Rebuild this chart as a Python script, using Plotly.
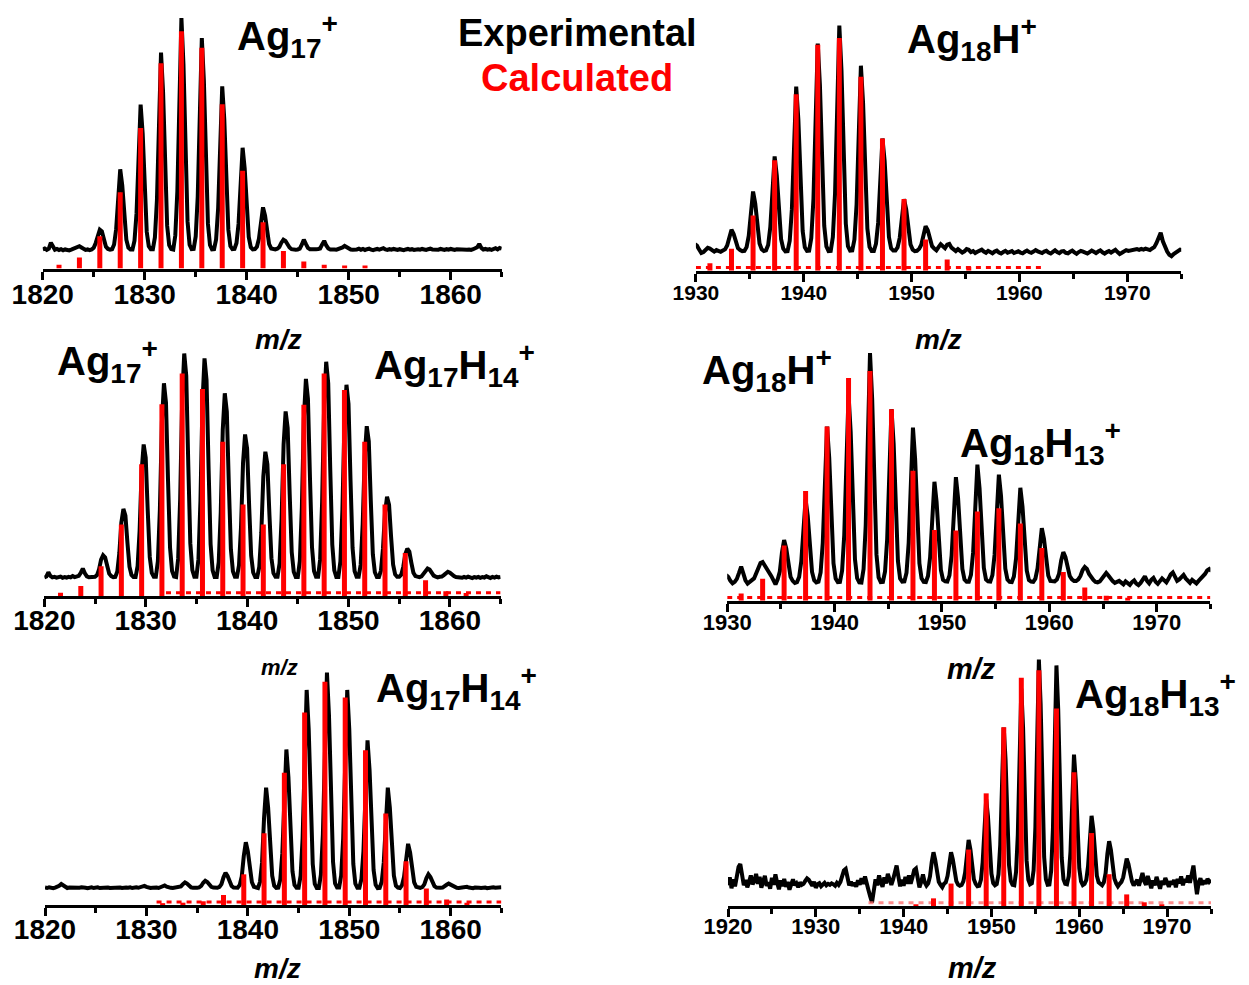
import numpy as np
import plotly.graph_objects as go

W, H = 1249, 985

# ---------------------------------------------------------------------------
# Experimental spectra: relative intensity (% of base peak), sampled every
# 0.2 m/z starting at the given m/z value.
# ---------------------------------------------------------------------------
STEP = 0.2

# Ag17+ (top left)
ag17_start = 1820.0
ag17_exp = [
    7.6, 8.0, 7.4, 7.9,
    10.3, 8.6, 7.5, 7.8, 7.4, 7.7, 7.3, 7.6, 7.4, 7.2,
    7.5, 7.8, 8.3, 8.7, 8.9, 8.4, 7.8, 7.4, 7.6, 7.3,
    7.6, 8.3, 10.2, 13.6, 15.5, 14.8, 11.6, 8.7, 7.8, 7.5,
    7.7, 9.6, 15.7, 30.0, 39.6, 33.2, 20.5, 11.5, 8.3, 7.6,
    7.6, 11.1, 22.1, 48.1, 65.4, 53.9, 30.8, 14.6, 8.9, 7.7,
    7.7, 12.4, 27.3, 62.6, 86.2, 70.5, 39.1, 17.1, 9.3, 7.8,
    7.6, 13.2, 30.8, 72.3, 100.0, 81.5, 44.6, 18.8, 9.5, 7.7,
    7.8, 12.8, 28.8, 66.7, 92.0, 75.1, 41.4, 17.8, 9.4, 7.6,
    7.7, 11.6, 24.0, 53.2, 72.7, 59.7, 33.7, 15.5, 9.0, 7.7,
    7.8, 10.2, 17.8, 36.1, 48.2, 40.1, 23.9, 12.6, 8.5, 7.6,
    7.7, 8.7, 11.9, 19.4, 24.4, 21.1, 14.4, 9.7, 8.0, 7.6,
    7.6, 7.9, 8.6, 10.3, 11.5, 11.0, 9.6, 8.4, 7.7, 7.4,
    7.5, 7.6, 7.9, 9.5, 11.5, 9.8, 8.2, 7.7, 7.6, 7.8,
    7.7, 7.8, 8.0, 9.6, 11.0, 9.2, 8.0, 7.6, 7.4, 7.6,
    7.5, 7.7, 7.9, 8.4, 9.0, 8.5, 7.9, 7.6, 7.5, 7.4,
    7.6, 7.9, 7.5, 7.8, 7.4, 7.7, 7.9, 7.5, 7.3, 7.6,
    7.8, 7.5, 7.7, 8.1, 7.6, 7.4, 7.7, 7.5, 7.8, 7.6,
    7.4, 7.7, 7.5, 7.3, 7.6, 7.8, 7.5, 7.7, 7.4, 7.6,
    7.7, 7.5, 7.8, 7.6, 7.4, 7.7, 7.9, 7.6, 7.5, 7.7,
    7.5, 7.8, 7.6, 7.4, 7.7, 7.5, 7.8, 7.6, 7.4, 7.7,
    7.6, 7.5, 7.8, 7.7, 7.5, 7.6, 7.4, 7.7, 7.9, 8.5,
    9.8, 8.2, 7.6, 7.8, 7.5, 7.7, 7.4, 7.8, 8.1, 7.6,
    8.2, 7.9,
]

# Ag18H+ (top right)
ag18h_start = 1929.9
ag18h_exp = [
    10.8, 10.2, 8.6,
    7.2, 7.6, 8.4, 9.3, 9.0, 8.2, 7.8, 8.4, 8.1, 7.7,
    8.2, 8.7, 10.3, 14.2, 16.7, 15.0, 11.6, 9.2, 8.4, 8.0,
    8.1, 9.6, 14.2, 25.1, 32.3, 27.5, 17.8, 11.1, 8.7, 8.0,
    8.3, 10.5, 17.8, 35.1, 46.6, 38.9, 23.6, 12.8, 9.0, 7.9,
    8.0, 12.2, 25.0, 55.0, 75.1, 61.7, 35.0, 16.2, 9.5, 8.1,
    8.2, 13.3, 29.3, 67.3, 92.6, 75.7, 42.0, 18.3, 9.9, 8.0,
    8.1, 13.7, 31.2, 72.5, 100.0, 81.6, 44.9, 19.2, 10.0, 8.2,
    8.3, 12.7, 27.1, 61.0, 83.6, 68.5, 38.4, 17.2, 9.7, 8.0,
    8.0, 11.0, 19.6, 40.2, 53.9, 44.8, 26.5, 13.7, 9.1, 8.2,
    8.2, 9.5, 13.4, 22.9, 29.2, 25.0, 16.6, 10.7, 8.6, 8.0,
    8.1, 8.9, 10.6, 15.1, 18.1, 16.5, 13.0, 10.0, 9.0, 8.3,
    9.6, 10.8, 10.0, 9.2, 10.6, 10.9, 9.4, 8.6, 8.0, 8.8,
    8.2, 7.4, 7.9, 8.8, 8.5, 7.6, 8.0, 7.2, 7.7, 8.3,
    8.6, 7.8, 7.3, 8.1, 7.6, 7.1, 7.8, 8.2, 7.4, 7.0,
    7.6, 8.1, 7.3, 7.7, 8.0, 7.2, 7.5, 7.9, 7.4, 7.1,
    7.7, 8.2, 7.6, 7.3, 7.8, 8.4, 7.9, 7.5, 7.2, 7.8,
    8.1, 7.4, 7.0, 7.7, 8.3, 7.6, 7.2, 7.9, 8.0, 7.3,
    7.1, 7.7, 8.2, 7.5, 6.9, 7.6, 8.1, 7.8, 7.3, 7.0,
    7.6, 8.2, 7.7, 7.2, 7.8, 8.3, 7.5, 7.0, 7.6, 8.0,
    7.4, 7.9, 8.5, 7.6, 6.8, 7.3, 8.0, 8.4, 8.1, 8.3,
    8.6, 8.4, 8.8, 8.5, 8.9, 8.6, 9.0, 8.7, 8.4, 9.1,
    9.6, 11.2, 14.0, 15.5, 12.0, 9.3, 7.8, 6.5, 5.9, 6.8,
    7.4, 8.3, 8.6, 8.4,
]

# Ag17+ / Ag17H14+ mixture (middle left)
ag17mix_start = 1820.0
ag17mix_exp = [
    7.6, 8.0, 9.8, 8.3, 7.7,
    7.9, 7.6, 7.8, 8.0, 7.5, 7.8, 7.6, 7.9, 7.7, 8.2,
    7.8, 7.9, 8.3, 9.6, 11.3, 9.4, 8.1, 7.7, 7.8, 7.6,
    7.9, 8.6, 11.0, 15.0, 16.8, 15.9, 12.4, 9.2, 8.2, 7.8,
    7.9, 10.1, 17.7, 30.3, 35.9, 33.1, 21.9, 12.1, 8.7, 7.8,
    7.8, 12.3, 27.0, 51.6, 62.5, 57.0, 35.2, 16.1, 9.5, 7.9,
    7.9, 14.3, 35.8, 71.7, 87.7, 79.7, 47.8, 19.9, 10.3, 8.0,
    7.8, 15.3, 40.1, 81.6, 100.0, 90.8, 54.0, 21.7, 10.7, 7.9,
    7.9, 15.1, 39.4, 80.0, 98.0, 89.0, 53.0, 21.4, 10.6, 7.8,
    7.8, 13.9, 34.4, 68.5, 83.6, 76.0, 45.8, 19.3, 10.2, 7.9,
    7.9, 12.6, 28.4, 54.9, 66.6, 60.7, 37.3, 16.7, 9.7, 7.8,
    7.8, 12.0, 26.0, 49.2, 59.5, 54.3, 33.7, 15.6, 9.4, 7.9,
    7.9, 13.4, 31.8, 62.5, 76.1, 69.3, 42.0, 18.1, 10.0, 7.8,
    7.8, 14.4, 36.5, 73.2, 89.5, 81.3, 48.7, 20.1, 10.3, 7.9,
    7.9, 15.0, 38.9, 78.9, 96.6, 87.7, 52.2, 21.2, 10.6, 7.8,
    7.8, 14.2, 35.6, 71.3, 87.1, 79.2, 47.5, 19.8, 10.3, 7.9,
    7.9, 12.9, 29.6, 57.6, 70.0, 63.8, 39.0, 17.2, 9.8, 7.8,
    7.8, 10.5, 19.5, 34.3, 40.9, 37.6, 24.4, 12.9, 8.9, 7.9,
    7.9, 8.8, 12.0, 17.2, 19.5, 18.3, 13.7, 9.6, 8.2, 7.8,
    7.8, 8.1, 9.1, 10.6, 11.3, 10.9, 9.6, 8.4, 8.0, 7.7,
    7.9, 8.0, 8.6, 9.5, 10.0, 9.6, 8.8, 8.2, 7.8, 7.6,
    7.8, 7.5, 7.9, 7.6, 8.0, 7.7, 7.4, 7.8, 7.6, 7.9,
    7.5, 7.8, 7.6, 8.1, 7.7, 7.4, 7.9, 7.6, 8.0, 7.7,
    7.9,
]

# Ag18H+ / Ag18H13+ mixture (middle right)
ag18mix_start = 1929.9
ag18mix_exp = [
    10.4, 9.6, 8.0,
    7.0, 7.6, 8.8, 11.2, 13.8, 11.0, 8.2, 6.9, 7.4, 8.3,
    9.0, 10.8, 13.2, 15.2, 15.6, 14.0, 12.2, 11.4, 10.0, 8.6,
    6.6, 8.6, 11.8, 19.4, 24.5, 21.1, 14.4, 9.6, 8.0, 7.2,
    7.5, 9.6, 15.9, 30.9, 40.9, 34.2, 20.9, 11.6, 8.3, 7.4,
    7.7, 11.4, 23.3, 51.5, 70.3, 57.8, 32.7, 15.1, 8.9, 7.5,
    7.6, 12.1, 26.5, 60.5, 83.2, 68.1, 37.8, 16.7, 9.1, 7.4,
    7.3, 12.8, 30.4, 72.3, 100.0, 81.5, 44.6, 18.7, 9.4, 7.5,
    7.6, 11.8, 25.0, 56.4, 77.3, 63.4, 35.5, 16.0, 9.0, 7.7,
    7.8, 11.3, 23.2, 51.2, 69.9, 57.4, 32.5, 15.1, 9.0, 7.6,
    7.5, 10.0, 17.7, 35.9, 48.0, 39.9, 23.8, 12.4, 8.4, 7.8,
    7.7, 10.2, 18.3, 37.3, 49.9, 41.5, 24.6, 12.8, 8.5, 7.6,
    7.6, 10.4, 19.4, 40.7, 54.9, 45.4, 26.5, 13.3, 8.6, 7.8,
    7.7, 10.3, 18.5, 38.0, 50.9, 42.3, 25.0, 12.9, 8.5, 7.6,
    7.5, 9.8, 17.0, 34.1, 45.6, 38.0, 22.7, 12.1, 8.3, 7.7,
    7.6, 8.9, 13.0, 22.8, 29.3, 25.0, 16.3, 10.2, 8.0, 7.9,
    7.8, 8.5, 10.8, 16.2, 19.6, 17.6, 13.2, 10.0, 8.6, 8.0,
    8.0, 8.6, 10.0, 12.4, 13.6, 12.8, 10.8, 9.2, 8.4, 7.6,
    7.4, 7.8, 8.8, 10.4, 11.2, 10.2, 8.8, 7.9, 7.2, 7.6,
    8.0, 7.3, 6.6, 7.8, 7.1, 6.4, 7.5, 8.2, 6.9, 6.3,
    7.2, 8.6, 9.8, 8.0, 7.0, 8.4, 9.2, 7.6, 6.8, 7.9,
    9.0, 8.2, 7.4, 8.8, 10.6, 11.4, 9.4, 8.0, 8.6, 9.8,
    10.4, 9.0, 7.8, 7.2, 8.4, 7.6, 7.0, 8.0, 8.8, 9.6,
    10.8, 12.2, 12.8, 12.0,
]

# Ag17H14+ (bottom left)
ag17h14_start = 1820.0
ag17h14_exp = [
    7.5, 7.3, 7.6, 7.4, 7.2,
    7.5, 7.7, 8.3, 9.0, 8.4, 7.6, 7.3, 7.5, 7.4, 7.6,
    7.3, 7.5, 7.4, 7.6, 7.7, 7.4, 7.2, 7.5, 7.6, 7.3,
    7.5, 7.6, 7.3, 7.4, 7.7, 7.8, 7.5, 7.3, 7.4, 7.6,
    7.4, 7.7, 7.5, 7.3, 7.6, 7.5, 7.4, 7.6, 7.3, 7.5,
    7.6, 7.4, 7.7, 8.0, 8.2, 7.8, 7.5, 7.3, 7.4, 7.6,
    7.5, 7.3, 7.6, 8.0, 8.4, 7.9, 7.5, 7.4, 7.3, 7.5,
    7.3, 7.5, 8.0, 9.0, 9.7, 9.2, 8.3, 7.6, 7.4, 7.2,
    7.4, 7.6, 8.2, 9.6, 10.4, 9.9, 8.6, 7.8, 7.5, 7.3,
    7.4, 7.8, 9.0, 11.9, 13.8, 12.5, 10.0, 8.2, 7.5, 7.3,
    7.4, 8.6, 12.3, 21.1, 27.0, 23.1, 15.2, 9.8, 7.8, 7.4,
    7.3, 10.0, 18.2, 37.6, 50.5, 41.9, 24.6, 12.6, 8.3, 7.4,
    7.5, 11.0, 22.3, 49.1, 66.9, 55.0, 31.2, 14.5, 8.6, 7.4,
    7.4, 12.5, 28.7, 67.0, 92.5, 75.5, 41.4, 17.6, 9.1, 7.3,
    7.3, 13.0, 30.5, 72.2, 100.0, 81.5, 44.5, 18.5, 9.3, 7.5,
    7.5, 12.6, 28.6, 66.9, 92.5, 75.5, 41.3, 17.6, 9.2, 7.4,
    7.4, 11.2, 23.3, 51.8, 70.8, 58.1, 32.8, 15.0, 8.7, 7.3,
    7.4, 10.0, 18.2, 37.6, 50.5, 41.9, 24.6, 12.6, 8.3, 7.5,
    7.3, 8.5, 12.1, 20.6, 26.3, 22.5, 15.0, 9.7, 7.8, 7.4,
    7.4, 7.7, 8.9, 11.5, 13.2, 12.0, 9.7, 8.1, 7.5, 7.3,
    7.4, 7.5, 7.9, 8.7, 9.2, 8.8, 8.1, 7.6, 7.4, 7.3,
    7.5, 7.3, 7.6, 7.8, 7.5, 7.3, 7.2, 7.5, 7.6, 7.4,
    7.3, 7.6, 7.5, 7.2, 7.4, 7.7, 7.6, 7.4, 7.5, 7.7,
    7.6,
]

# Ag18H13+ (bottom right)
ag18h13_start = 1920.0
ag18h13_exp = [
    8.4, 11.6, 7.2,
    10.8, 8.0, 12.6, 15.8, 17.0, 11.2, 8.4, 10.6, 7.6, 9.8,
    12.4, 8.8, 10.2, 13.0, 9.0, 11.8, 7.4, 10.0, 12.2, 8.2,
    9.6, 7.0, 11.4, 8.6, 12.8, 9.4, 6.8, 10.4, 8.0, 11.0,
    7.8, 9.8, 6.6, 8.8, 10.8, 8.4, 9.2, 7.6, 9.6, 8.6,
    9.0, 10.2, 11.2, 10.6, 9.4, 8.2, 9.8, 7.4, 8.8, 9.2,
    8.0, 8.8, 9.4, 8.4, 9.0, 8.6, 9.2, 8.8, 8.2, 9.4,
    8.6, 9.8, 12.0, 14.4, 15.0, 11.2, 8.4, 9.8, 8.2, 9.4,
    7.8, 10.4, 8.6, 11.2, 9.0, 12.0, 8.2, 6.4, 3.8, 1.4,
    6.2, 10.8, 8.4, 12.4, 9.6, 7.8, 11.6, 9.2, 13.0, 10.4,
    8.6, 10.8, 13.2, 16.4, 12.0, 8.0, 10.6, 8.2, 11.8, 9.0,
    12.4, 9.0, 11.6, 14.6, 15.2, 10.6, 7.6, 9.8, 12.8, 9.6,
    8.3, 9.2, 12.0, 17.8, 21.8, 18.6, 12.5, 9.8, 8.6, 7.6,
    9.0, 9.6, 12.2, 18.0, 21.8, 18.9, 13.0, 10.1, 8.7, 8.2,
    8.5, 10.0, 13.5, 21.5, 26.8, 23.0, 15.5, 10.8, 9.0, 8.0,
    8.2, 10.6, 17.8, 33.2, 43.3, 36.4, 22.6, 13.1, 9.3, 8.4,
    8.9, 12.8, 24.8, 53.3, 72.4, 59.7, 34.4, 16.6, 10.2, 8.6,
    8.4, 13.8, 28.8, 64.4, 88.2, 72.4, 40.7, 18.5, 10.6, 8.8,
    9.2, 14.5, 31.7, 72.7, 100.0, 81.8, 45.4, 19.9, 10.8, 8.6,
    8.7, 14.3, 31.2, 71.0, 97.6, 79.9, 44.4, 19.6, 10.8, 9.0,
    8.8, 12.1, 22.1, 45.7, 61.4, 50.9, 30.0, 15.3, 10.0, 8.5,
    9.0, 10.6, 16.1, 28.3, 36.6, 31.1, 20.0, 12.3, 9.6, 8.7,
    8.4, 9.6, 13.3, 21.1, 26.3, 22.8, 15.8, 11.1, 9.2, 8.0,
    9.0, 9.8, 11.6, 16.2, 19.2, 17.0, 12.8, 10.0, 8.3, 9.4,
    10.6, 8.2, 11.2, 13.4, 10.0, 8.6, 12.2, 9.4, 7.2, 10.4,
    8.4, 11.8, 9.2, 7.0, 10.2, 8.6, 11.4, 9.0, 7.8, 10.0,
    8.8, 10.6, 7.6, 11.0, 9.2, 12.0, 8.4, 10.8, 9.6, 12.4,
    9.4, 12.8, 16.4, 10.2, 4.8, 9.6, 11.2, 8.6, 10.4, 9.0,
    11.0, 9.8, 10.6,
]

# ---------------------------------------------------------------------------
# Calculated isotope patterns (stick spectra), same intensity scale
# ---------------------------------------------------------------------------
ag17_calc_mz = [1821.6, 1823.6, 1825.6, 1827.6, 1829.6, 1831.6, 1833.6, 1835.6,
                1837.6, 1839.6, 1841.6, 1843.6, 1845.6, 1847.6, 1849.6, 1851.6]
ag17_calc_int = [1.5, 4.4, 12.9, 30.4, 56.1, 81.9, 94.7, 88.1,
                 65.6, 39.0, 18.5, 7.0, 2.8, 1.5, 1.2, 1.2]

ag18h_calc_mz = [1931.3, 1933.3, 1935.3, 1937.3, 1939.3, 1941.3, 1943.3,
                 1945.3, 1947.3, 1949.3, 1951.3, 1953.3, 1955.3]
ag18h_calc_int = [3.0, 9.0, 22.5, 45.0, 72.0, 92.2, 94.9,
                  79.1, 53.9, 29.2, 12.7, 4.6, 1.6]

ag17mix_calc_mz = [1821.6, 1823.6, 1825.6, 1827.6, 1829.6, 1831.6, 1833.6,
                   1835.6, 1837.6, 1839.6, 1841.6, 1843.6, 1845.6, 1847.6,
                   1849.6, 1851.6, 1853.6, 1855.6, 1857.6, 1859.6, 1861.6]
ag17mix_calc_int = [1.3, 4.1, 12.3, 29.5, 54.3, 79.1, 91.8,
                    85.4, 63.6, 37.7, 29.5, 54.3, 78.9, 91.8,
                    85.0, 63.6, 37.7, 17.7, 6.5, 2.0, 1.2]

ag18mix_calc_mz = [1931.3, 1933.3, 1935.3, 1937.3, 1939.3, 1941.3, 1943.3,
                   1945.3, 1947.3, 1949.3, 1951.3, 1953.3, 1955.3, 1957.3,
                   1959.3, 1961.3, 1963.3, 1965.3, 1967.3]
ag18mix_calc_int = [2.9, 8.9, 22.3, 44.3, 70.3, 89.9, 92.7,
                    77.3, 52.5, 28.5, 28.3, 36.0, 37.3, 31.2,
                    21.3, 11.6, 5.3, 2.0, 1.2]

ag17h14_calc_mz = [1831.6, 1833.6, 1835.6, 1837.6, 1839.6, 1841.6, 1843.6,
                   1845.6, 1847.6, 1849.6, 1851.6, 1853.6, 1855.6, 1857.6,
                   1859.6, 1861.6]
ag17h14_calc_int = [0.8, 1.0, 1.6, 4.3, 13.2, 30.9, 56.9,
                    82.8, 96.0, 89.2, 66.6, 39.4, 18.8, 7.1,
                    2.4, 1.0]

ag18h13_calc_mz = [1941.4, 1943.4, 1945.4, 1947.4, 1949.4, 1951.4, 1953.4,
                   1955.4, 1957.4, 1959.4, 1961.4, 1963.4, 1965.4, 1967.4,
                   1969.4]
ag18h13_calc_int = [0.7, 3.1, 9.1, 22.9, 45.7, 72.5, 92.6,
                    95.6, 80.1, 54.3, 29.6, 12.9, 4.7, 1.5, 0.7]

# m/z span covered by the computed profile (drawn as a dotted zero line)
calc_span = {
    "ag17": None,
    "ag18h": (1930.0, 1962.0),
    "ag17mix": (1832.0, 1865.0),
    "ag18mix": (1930.0, 1975.0),
    "ag17h14": (1831.0, 1865.0),
    "ag18h13": (1936.0, 1975.0),
}

# axis windows
x_ranges = {
    "ag17": (1820, 1865), "ag18h": (1930, 1975),
    "ag17mix": (1820, 1865), "ag18mix": (1930, 1975),
    "ag17h14": (1820, 1865), "ag18h13": (1920, 1975),
}

# ---------------------------------------------------------------------------
# Panel geometry (pixels in the 1249 x 985 canvas):
# left/right edge of the axis, y of the axis line, y of the base-peak top,
# tick-label size and the shift of the tick labels toward the axis
# ---------------------------------------------------------------------------
panels = [
    dict(key="ag17", start=ag17_start, exp=ag17_exp,
         mz=ag17_calc_mz, inten=ag17_calc_int,
         px=(42.7, 501.7), axis=268.5, top=18, tick=28, stand=-9,
         dash="rgba(255,0,0,1)"),
    dict(key="ag18h", start=ag18h_start, exp=ag18h_exp,
         mz=ag18h_calc_mz, inten=ag18h_calc_int,
         px=(695.9, 1181.2), axis=270.7, top=25.5, tick=21, stand=-7,
         dash="rgba(255,0,0,1)"),
    dict(key="ag17mix", start=ag17mix_start, exp=ag17mix_exp,
         mz=ag17mix_calc_mz, inten=ag17mix_calc_int,
         px=(44.3, 500.6), axis=596.0, top=353.5, tick=28, stand=-11,
         dash="rgba(255,0,0,1)"),
    dict(key="ag18mix", start=ag18mix_start, exp=ag18mix_exp,
         mz=ag18mix_calc_mz, inten=ag18mix_calc_int,
         px=(727.2, 1210.4), axis=600.7, top=353, tick=22, stand=-8,
         dash="rgba(255,0,0,1)"),
    dict(key="ag17h14", start=ag17h14_start, exp=ag17h14_exp,
         mz=ag17h14_calc_mz, inten=ag17h14_calc_int,
         px=(45.0, 501.4), axis=905.0, top=672.5, tick=28, stand=-11,
         dash="rgba(255,0,0,1)"),
    dict(key="ag18h13", start=ag18h13_start, exp=ag18h13_exp,
         mz=ag18h13_calc_mz, inten=ag18h13_calc_int,
         px=(728.0, 1211.0), axis=906.0, top=659.5, tick=22, stand=-9,
         dash="rgba(255,110,110,0.8)"),
]

FONT = "Liberation Sans, Arial, Helvetica, sans-serif"
PAD = 8  # free space above the base peak inside each plot area


def sticks(mz, inten):
    """Vertical segments from zero up to each calculated intensity."""
    xs, ys = [], []
    for m, v in zip(mz, inten):
        xs += [m, m, None]
        ys += [0, v, None]
    return xs, ys


fig = go.Figure()
layout = dict(
    width=W, height=H, autosize=False,
    margin=dict(l=0, r=0, t=0, b=0, pad=0, autoexpand=False),
    paper_bgcolor="white", plot_bgcolor="rgba(0,0,0,0)",
    showlegend=False,
)

for i, p in enumerate(panels, start=1):
    xa, ya = f"x{i}", f"y{i}"
    xs = p["start"] + STEP * np.arange(len(p["exp"]))

    # experimental trace
    fig.add_trace(go.Scatter(
        x=xs, y=p["exp"], mode="lines", xaxis=xa, yaxis=ya,
        line=dict(color="black", width=4), hoverinfo="skip"))

    # zero line of the calculated profile
    span = calc_span[p["key"]]
    if span is not None:
        fig.add_trace(go.Scatter(
            x=list(span), y=[1.3, 1.3], mode="lines", xaxis=xa, yaxis=ya,
            line=dict(color=p["dash"], width=3, dash="5px,5px"),
            hoverinfo="skip"))

    # calculated sticks, drawn above the experimental trace
    sx, sy = sticks(p["mz"], p["inten"])
    fig.add_trace(go.Scatter(
        x=sx, y=sy, mode="lines", xaxis=xa, yaxis=ya,
        line=dict(color="#ff0000", width=5), hoverinfo="skip"))

    x0, x1 = p["px"]
    top_px = p["top"] - PAD
    y_hi = 100 * (p["axis"] - top_px) / (p["axis"] - p["top"])
    lo, hi = x_ranges[p["key"]]

    layout[f"xaxis{i}"] = dict(
        domain=[x0 / W, x1 / W], anchor=ya, range=[lo, hi],
        automargin=False,
        showline=True, linecolor="black", linewidth=3,
        ticks="outside", ticklen=8, tickwidth=3, tickcolor="black",
        tick0=lo, dtick=10, ticklabelstandoff=p["stand"],
        minor=dict(ticks="outside", ticklen=5, tickwidth=3,
                   tickcolor="black", dtick=5, tick0=lo, showgrid=False),
        showgrid=False, zeroline=False,
        tickfont=dict(family=FONT, size=p["tick"], color="black",
                      weight="bold"),
        fixedrange=True,
    )
    layout[f"yaxis{i}"] = dict(
        domain=[1 - p["axis"] / H, 1 - top_px / H], anchor=xa,
        range=[0, y_hi], visible=False, automargin=False, fixedrange=True,
    )

# ---------------------------------------------------------------------------
# Text
# ---------------------------------------------------------------------------
ions = [
    ("Ag<sub>17</sub><sup>+</sup>", 235, 36.5),
    ("Ag<sub>18</sub>H<sup>+</sup>", 905, 39.5),
    ("Ag<sub>17</sub><sup>+</sup>", 55, 361),
    ("Ag<sub>17</sub>H<sub>14</sub><sup>+</sup>", 372, 365),
    ("Ag<sub>18</sub>H<sup>+</sup>", 700, 370),
    ("Ag<sub>18</sub>H<sub>13</sub><sup>+</sup>", 958, 443),
    ("Ag<sub>17</sub>H<sub>14</sub><sup>+</sup>", 374, 688),
    ("Ag<sub>18</sub>H<sub>13</sub><sup>+</sup>", 1073, 694),
]
mz_labels = [
    (278, 340, 28), (938, 339, 28), (279, 667, 22),
    (971, 669, 29), (277, 968, 28), (972, 968, 29),
]

annotations = []
for text, x, y in ions:
    annotations.append(dict(
        text=text, x=x / W, y=1 - y / H, xref="paper", yref="paper",
        xanchor="left", yanchor="middle", showarrow=False,
        font=dict(family=FONT, size=40, color="black", weight="bold")))

for x, y, size in mz_labels:
    annotations.append(dict(
        text="m/z", x=x / W, y=1 - y / H, xref="paper", yref="paper",
        xanchor="center", yanchor="middle", showarrow=False,
        font=dict(family=FONT, size=size, color="black", weight="bold",
                  style="italic")))

annotations.append(dict(
    text="Experimental", x=577 / W, y=1 - 33 / H, xref="paper", yref="paper",
    xanchor="center", yanchor="middle", showarrow=False,
    font=dict(family=FONT, size=38, color="black", weight="bold")))
annotations.append(dict(
    text="Calculated", x=577 / W, y=1 - 78 / H, xref="paper", yref="paper",
    xanchor="center", yanchor="middle", showarrow=False,
    font=dict(family=FONT, size=38, color="#ff0000", weight="bold")))

layout["annotations"] = annotations
fig.update_layout(**layout)

fig.write_html("out.html")
